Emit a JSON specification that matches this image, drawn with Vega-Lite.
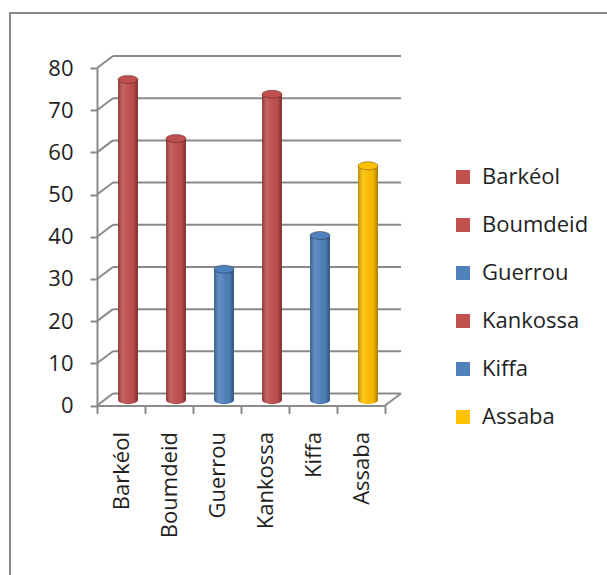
{
  "$schema": "https://vega.github.io/schema/vega-lite/v6.json",
  "width": 602,
  "height": 567,
  "autosize": "none",
  "padding": {"left": 10, "top": 13, "right": -5, "bottom": -5},
  "background": "white",
  "config": {
    "font": "Open Sans",
    "view": {"stroke": "#8a8a8a", "strokeWidth": 2},
    "axis": {
      "grid": false,
      "domainColor": "#8a8a8a",
      "domainWidth": 2,
      "tickColor": "#8a8a8a",
      "tickWidth": 2,
      "labelFont": "Open Sans",
      "labelFontSize": 22,
      "labelColor": "#1f1f1f",
      "title": null
    },
    "axisLeft": {"offset": -87, "tickSize": 7, "labelPadding": 17, "tickCount": 8},
    "axisBottom": {"offset": -174.5, "tickSize": 8, "labelPadding": 18, "labelAngle": -90, "tickBand": "extent"}
  },
  "datasets": {
    "regions": [
      {"region": "Barkéol", "value": 76},
      {"region": "Boumdeid", "value": 62},
      {"region": "Guerrou", "value": 31},
      {"region": "Kankossa", "value": 72.5},
      {"region": "Kiffa", "value": 39},
      {"region": "Assaba", "value": 55.5}
    ],
    "ticks": [
      {"value": 0}, {"value": 10}, {"value": 20}, {"value": 30}, {"value": 40},
      {"value": 50}, {"value": 60}, {"value": 70}, {"value": 80}
    ]
  },
  "resolve": {"scale": {"x": "independent"}},
  "layer": [
    {
      "data": {"name": "ticks"},
      "layer": [
        {
          "mark": {"type": "rule", "color": "#8a8a8a", "strokeWidth": 2, "xOffset": 16, "x2Offset": 16, "yOffset": -12},
          "encoding": {
            "x": {"datum": 0, "type": "quantitative", "scale": {"domain": [0, 1], "range": [87, 375]}, "axis": null},
            "x2": {"datum": 1},
            "y": {"field": "value", "type": "quantitative", "scale": {"domain": [0, 80], "range": [392.5, 55], "nice": false}, "title": null}
          }
        },
        {
          "mark": {"type": "rule", "color": "#8a8a8a", "strokeWidth": 2, "x2Offset": 16, "y2Offset": -12},
          "encoding": {
            "x": {"datum": 0, "type": "quantitative", "scale": {"domain": [0, 1], "range": [87, 375]}, "axis": null},
            "x2": {"datum": 0},
            "y": {"field": "value", "type": "quantitative", "title": null},
            "y2": {"field": "value"}
          }
        },
        {
          "transform": [{"filter": "datum.value == 0"}],
          "mark": {"type": "rule", "color": "#8a8a8a", "strokeWidth": 2, "x2Offset": 16, "y2Offset": -12},
          "encoding": {
            "x": {"datum": 1, "type": "quantitative", "scale": {"domain": [0, 1], "range": [87, 375]}, "axis": null},
            "x2": {"datum": 1},
            "y": {"field": "value", "type": "quantitative", "title": null},
            "y2": {"field": "value"}
          }
        }
      ]
    },
    {
      "data": {"name": "regions"},
      "encoding": {
        "x": {
          "field": "region",
          "type": "nominal",
          "sort": null,
          "scale": {"domain": ["Barkéol", "Boumdeid", "Guerrou", "Kankossa", "Kiffa", "Assaba"], "range": [87, 375], "paddingInner": 0, "paddingOuter": 0},
          "title": null
        }
      },
      "layer": [
        {
          "mark": {"type": "point", "shape": "M-1,0 A1,0.4 0 1,0 1,0 A1,0.4 0 1,0 -1,0 Z", "size": 400, "filled": true, "opacity": 1, "xOffset": 7, "yOffset": -5.5},
          "encoding": {
            "y": {"datum": 0, "type": "quantitative", "title": null},
            "color": {
              "field": "region",
              "type": "nominal",
              "scale": {"domain": ["Barkéol", "Boumdeid", "Guerrou", "Kankossa", "Kiffa", "Assaba"], "range": ["#C0504D", "#C0504D", "#4F81BD", "#C0504D", "#4F81BD", "#FFC000"]},
              "legend": {
                "title": null,
                "orient": "none",
                "legendX": 442,
                "legendY": 153,
                "symbolType": "square",
                "symbolSize": 196,
                "symbolStrokeWidth": 0,
                "symbolOpacity": 1,
                "labelFont": "Open Sans",
                "labelFontSize": 22,
                "labelColor": "#1f1f1f",
                "labelOffset": 8,
                "rowPadding": 26,
                "padding": 0
              }
            }
          }
        },
        {
          "mark": {
            "type": "point", "shape": "M-1,0 A1,0.4 0 1,0 1,0 A1,0.4 0 1,0 -1,0 Z", "size": 400, "filled": true, "opacity": 1, "xOffset": 7, "yOffset": -5.5,
            "fill": {"gradient": "linear", "x1": 0, "y1": 0, "x2": 1, "y2": 0, "stops": [
              {"offset": 0, "color": "rgba(0,0,0,0.28)"},
              {"offset": 0.3, "color": "rgba(255,255,255,0.1)"},
              {"offset": 0.75, "color": "rgba(0,0,0,0.03)"},
              {"offset": 1, "color": "rgba(0,0,0,0.35)"}
            ]}
          },
          "encoding": {"y": {"datum": 0, "type": "quantitative", "title": null}}
        },
        {
          "mark": {"type": "bar", "width": 20, "xOffset": 7, "yOffset": -5.5, "y2Offset": -5.5},
          "encoding": {
            "y": {"field": "value", "type": "quantitative", "title": null},
            "y2": {"datum": 0},
            "color": {"field": "region", "type": "nominal"}
          }
        },
        {
          "mark": {
            "type": "bar", "width": 20, "xOffset": 7, "yOffset": -5.5, "y2Offset": -5.5,
            "fill": {"gradient": "linear", "x1": 0, "y1": 0, "x2": 1, "y2": 0, "stops": [
              {"offset": 0, "color": "rgba(0,0,0,0.28)"},
              {"offset": 0.3, "color": "rgba(255,255,255,0.1)"},
              {"offset": 0.75, "color": "rgba(0,0,0,0.03)"},
              {"offset": 1, "color": "rgba(0,0,0,0.35)"}
            ]}
          },
          "encoding": {
            "y": {"field": "value", "type": "quantitative", "title": null},
            "y2": {"datum": 0}
          }
        },
        {
          "mark": {"type": "point", "shape": "M-1,0 A1,0.4 0 1,0 1,0 A1,0.4 0 1,0 -1,0 Z", "size": 400, "filled": true, "opacity": 1, "xOffset": 7, "yOffset": -5.5, "stroke": "rgba(0,0,0,0.3)", "strokeWidth": 1},
          "encoding": {
            "y": {"field": "value", "type": "quantitative", "title": null},
            "color": {"field": "region", "type": "nominal"}
          }
        }
      ]
    }
  ]
}
